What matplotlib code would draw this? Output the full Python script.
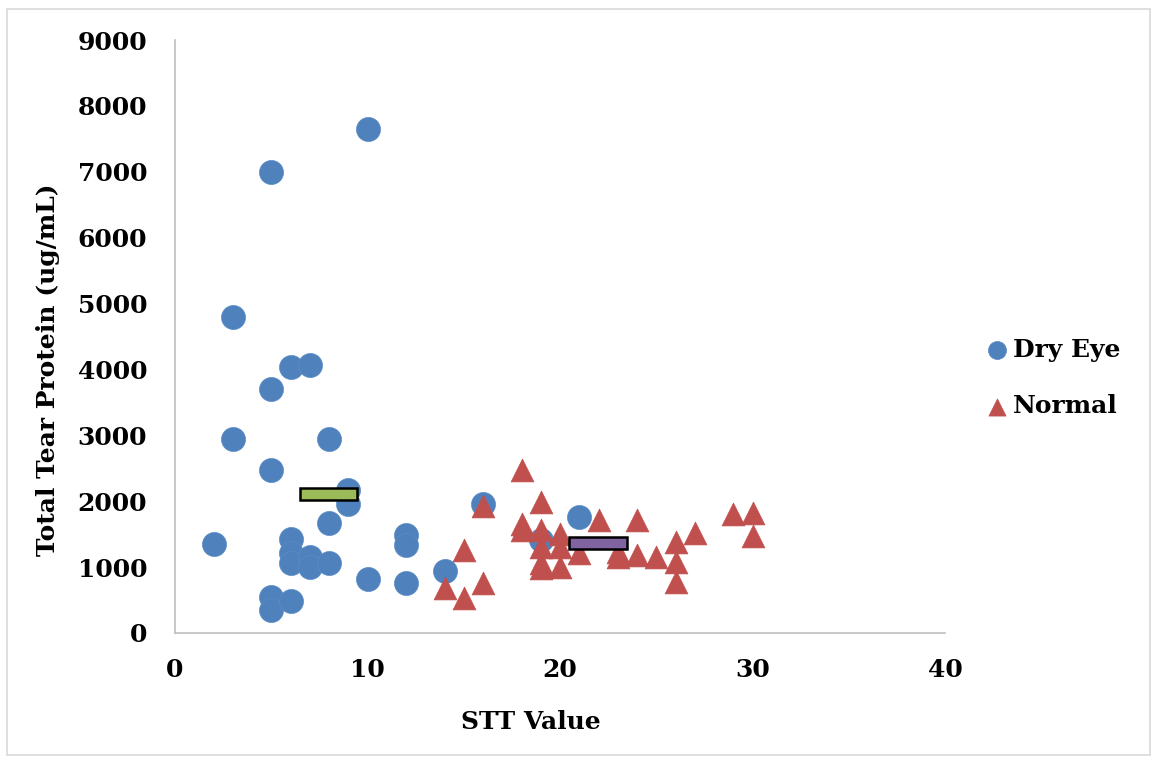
import matplotlib
matplotlib.use("Agg")
import matplotlib.pyplot as plt
from matplotlib.patches import Rectangle

# Dry Eye group: STT value vs total tear protein
dry_stt = [2, 3, 3, 5, 5, 5, 5, 5, 6, 6, 6, 6, 6, 7, 7, 7, 8, 8, 8, 9, 9,
           10, 10, 12, 12, 12, 14, 16, 19, 21]
dry_protein = [1350, 4800, 2950, 7000, 3700, 2470, 550, 350, 4030, 1430, 1210,
               1060, 490, 4060, 1150, 1000, 2950, 1670, 1060, 2170, 1960,
               7650, 820, 1490, 1340, 760, 940, 1960, 1410, 1760]

# Normal group
norm_stt = [14, 15, 15, 16, 16, 18, 18, 18, 19, 19, 19, 19, 19, 20, 20, 20,
            21, 22, 23, 23, 24, 24, 25, 26, 26, 26, 27, 29, 30, 30]
norm_protein = [680, 1260, 530, 1930, 760, 2470, 1650, 1560, 1990, 1560, 1310,
                1060, 990, 1510, 1310, 1000, 1220, 1710, 1230, 1160, 1710,
                1190, 1150, 1380, 1080, 780, 1520, 1800, 1820, 1470]

# mean markers (x, y) for each group
mean_pos = [(7.97, 2110), (21.97, 1366)]
mean_colors = ["#9BBB59", "#8064A2"]

plt.rcParams['font.family'] = ['DejaVu Serif']
plt.rcParams['font.weight'] = 'bold'

fig = plt.figure(figsize=(11.54, 7.59), dpi=100)
fig.patches.append(Rectangle((7 / 1154, 4 / 759), 1143 / 1154, 746 / 759,
                             transform=fig.transFigure, fill=False,
                             edgecolor="#d9d9d9", linewidth=1.2))
ax = fig.add_axes([175 / 1154, 126 / 759, 770 / 1154, 593 / 759])

ax.scatter(dry_stt, dry_protein, s=300, marker='o', color="#4F81BD",
           edgecolors="#5B8CC6", linewidths=0.5, label="Dry Eye", zorder=3)
ax.scatter(norm_stt, norm_protein, s=270, marker='^', color="#C0504D",
           edgecolors="#C0504D", linewidths=0.5, label="Normal", zorder=4)

for (mx, my), c in zip(mean_pos, mean_colors):
    ax.add_patch(Rectangle((mx - 1.5, my - 90), 3.0, 180, facecolor=c,
                           edgecolor="black", linewidth=1.8, zorder=5))

ax.set_xlim(0, 40)
ax.set_ylim(0, 9000)
ax.set_xticks(range(0, 41, 10))
ax.set_yticks(range(0, 9001, 1000))
ax.tick_params(length=0, labelsize=18)
ax.tick_params(axis='y', pad=20)
ax.tick_params(axis='x', pad=18)
for s in ['top', 'right']:
    ax.spines[s].set_visible(False)
for s in ['left', 'bottom']:
    ax.spines[s].set_color("#bfbfbf")
    ax.spines[s].set_linewidth(1.2)

ax.set_xlabel("STT Value", fontsize=18, fontweight='bold')
ax.set_ylabel("Total Tear Protein (ug/mL)", fontsize=18, fontweight='bold')
ax.xaxis.set_label_coords(0.462, -0.13)
ax.yaxis.set_label_coords(-0.149, 0.4435)

leg = fig.legend(handles=ax.collections[:2], loc='center left',
                 bbox_to_anchor=(984 / 1154, 1 - 378 / 759), frameon=False,
                 fontsize=18, markerscale=0.75, handlelength=1.0,
                 handletextpad=0.15, borderpad=0, borderaxespad=0,
                 labelspacing=1.3)

fig.savefig("out.png", dpi=100)
